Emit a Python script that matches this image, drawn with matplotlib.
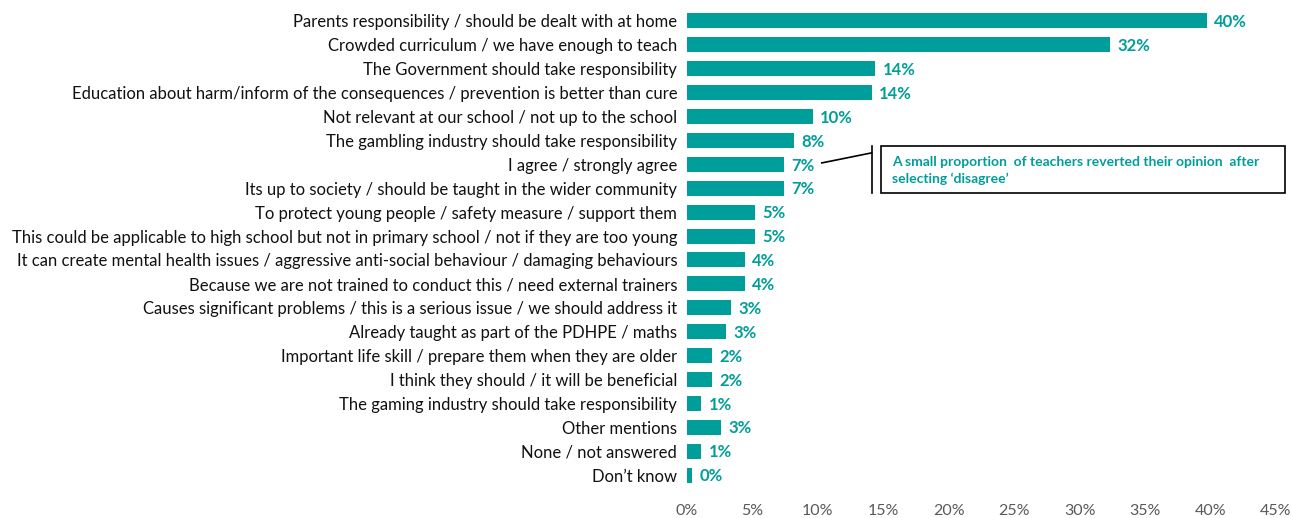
import matplotlib.pyplot as plt
from matplotlib.patches import Rectangle

# Reasons given by teachers (share of responses, %)
categories = [
    "Parents responsibility / should be dealt with at home",
    "Crowded curriculum / we have enough to teach",
    "The Government should take responsibility",
    "Education about harm/inform of the consequences / prevention is better than cure",
    "Not relevant at our school / not up to the school",
    "The gambling industry should take responsibility",
    "I agree / strongly agree",
    "Its up to society / should be taught in the wider community",
    "To protect young people / safety measure / support them",
    "This could be applicable to high school but not in primary school / not if they are too young",
    "It can create mental health issues / aggressive anti-social behaviour / damaging behaviours",
    "Because we are not trained to conduct this / need external trainers",
    "Causes significant problems / this is a serious issue / we should address it",
    "Already taught as part of the PDHPE / maths",
    "Important life skill / prepare them when they are older",
    "I think they should / it will be beneficial",
    "The gaming industry should take responsibility",
    "Other mentions",
    "None / not answered",
    "Don\u2019t know",
]
values = [39.7, 32.3, 14.4, 14.1, 9.6, 8.2, 7.4, 7.4, 5.2, 5.2,
          4.4, 4.4, 3.4, 3.0, 1.9, 1.9, 1.1, 2.6, 1.1, 0.4]
x_ticks = [0, 5, 10, 15, 20, 25, 30, 35, 40, 45]
note = "A small proportion  of teachers reverted their opinion  after\nselecting \u2018disagree\u2019"

teal = "#009E9A"
plt.rcParams['font.family'] = ['Lato', 'DejaVu Sans']

fig = plt.figure(figsize=(12.92, 5.18), dpi=100)
ax = fig.add_axes([0.5317, 0.0598, 0.4559, 0.9228])

pos = list(range(len(categories)))
ax.barh(pos, values, height=0.63, color=teal)
ax.set_ylim(len(categories) - 0.5, -0.5)
ax.set_xlim(0, 45)

ax.set_yticks(pos)
ax.set_yticklabels(categories, fontsize=12, color="#111111")
ax.set_xticks(x_ticks)
ax.set_xticklabels([f"{t}%" for t in x_ticks], fontsize=11.5, color="#595959")
ax.tick_params(axis="both", length=0)
ax.tick_params(axis="y", pad=7)
ax.tick_params(axis="x", pad=12)
for s in ax.spines.values():
    s.set_visible(False)

for p, v in zip(pos, values):
    ax.text(v + 0.55, p + 0.05, f"{v:.0f}%", va="center", ha="left",
            fontsize=12, fontweight="bold", color=teal)

# callout next to "I agree / strongly agree"
ax.plot([10.3, 14.1], [5.94, 5.52], color="black", lw=1.2, clip_on=False)
ax.plot([14.1, 14.1], [5.23, 7.2], color="black", lw=1.2, clip_on=False)
ax.add_patch(Rectangle((14.8, 5.23), 30.9, 1.95, fill=False, edgecolor="black",
                       lw=1.2, clip_on=False))
ax.text(15.7, 6.25, note, va="center", ha="left", fontsize=10, fontweight="bold",
        color=teal, linespacing=1.4, clip_on=False)

fig.savefig("out.png", dpi=100)
